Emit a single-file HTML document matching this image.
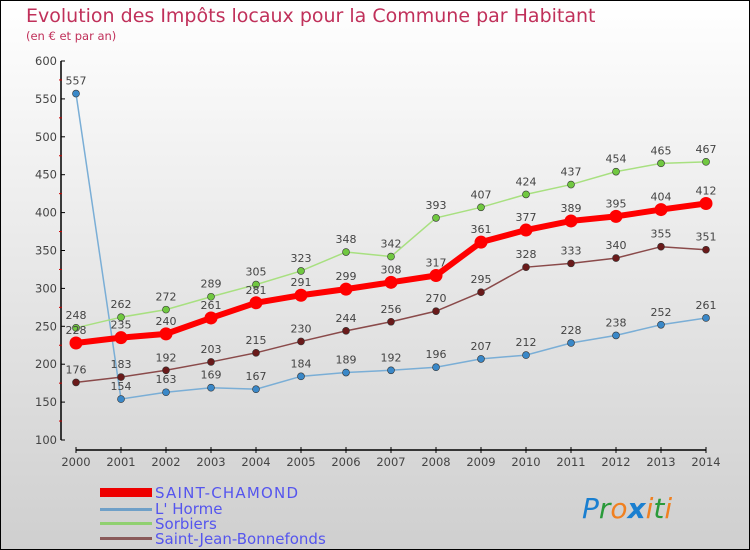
<!DOCTYPE html>
<html><head><meta charset="utf-8"><style>
body{margin:0}
#c{width:750px;height:550px;position:relative;overflow:hidden;box-sizing:border-box;border:1px solid #000;background:linear-gradient(#fff,#cfcfcf);font-family:"DejaVu Sans","Liberation Sans",sans-serif}
</style></head><body>
<div id="c">
<svg id="s" width="750" height="550" style="position:absolute;left:-1px;top:-1px">
<text x="26" y="22" font-size="19" fill="#c0305a">Evolution des Impôts locaux pour la Commune par Habitant</text>
<text x="26" y="40" font-size="11.5" fill="#c0305a">(en € et par an)</text>
<g id="axes"></g><g id="series"></g>
<g>
<rect x="100" y="488" width="52" height="9" fill="#e00"/>
<text x="155" y="498" font-size="15" fill="#5555ee" textLength="143">SAINT-CHAMOND</text>
<rect x="100" y="508" width="52" height="3" fill="#6fa0c8"/>
<text x="155" y="514" font-size="15" fill="#5555ee">L' Horme</text>
<rect x="100" y="522" width="52" height="3" fill="#90d070"/>
<text x="155" y="529" font-size="15" fill="#5555ee">Sorbiers</text>
<rect x="100" y="537" width="52" height="3" fill="#8a5a5a"/>
<text x="155" y="544" font-size="15" fill="#5555ee">Saint-Jean-Bonnefonds</text>
</g>
<text x="582" y="518" font-size="28" font-style="italic"><tspan fill="#1a7fd0">P</tspan><tspan fill="#2a9a3a">r</tspan><tspan fill="#f08020">o</tspan><tspan fill="#1a7fd0" font-weight="bold">x</tspan><tspan fill="#f08020">i</tspan><tspan fill="#2a9a3a">t</tspan><tspan fill="#f08020">i</tspan></text>
</svg>
</div>
<script>
const years=[2000,2001,2002,2003,2004,2005,2006,2007,2008,2009,2010,2011,2012,2013,2014];
const yTicks=[100,150,200,250,300,350,400,450,500,550,600];
const saintChamond=[228,235,240,261,281,291,299,308,317,361,377,389,395,404,412];
const lHorme=[557,154,163,169,167,184,189,192,196,207,212,228,238,252,261];
const sorbiers=[248,262,272,289,305,323,348,342,393,407,424,437,454,465,467];
const sjb=[176,183,192,203,215,230,244,256,270,295,328,333,340,355,351];
const NS='http://www.w3.org/2000/svg';
const X=i=>76+i*(706-76)/(years.length-1);
const Y=v=>440-(v-100)*(440-61)/500;
function mk(t,a,p){const e=document.createElementNS(NS,t);for(const k in a)e.setAttribute(k,a[k]);p.appendChild(e);return e;}
const ax=document.getElementById('axes'),sg=document.getElementById('series');
let e=mk('line',{x1:61,y1:61,x2:61,y2:440,stroke:'#000','stroke-width':1.5},ax);

e=mk('line',{x1:76,y1:450,x2:706,y2:450,stroke:'#000','stroke-width':1.5},ax);

yTicks.forEach((v,i)=>{mk('line',{x1:61,y1:Y(v),x2:65,y2:Y(v),stroke:'#000'},ax);
 if(i<yTicks.length-1)mk('line',{x1:59,y1:Y(v+25),x2:62,y2:Y(v+25),stroke:'#c00'},ax);
 const t=mk('text',{x:57,y:Y(v)+4,'font-size':11.5,fill:'#444','text-anchor':'end'},ax);t.textContent=v;
 });
years.forEach((y,i)=>{mk('line',{x1:X(i),y1:447,x2:X(i),y2:453,stroke:'#000'},ax);
 const t=mk('text',{x:X(i),y:466,'font-size':11.5,fill:'#444','text-anchor':'middle'},ax);t.textContent=y;
 });
function series(d,col,dot,w,r,name){
 const g=mk('g',{},sg);
 mk('polyline',{points:d.map((v,i)=>X(i)+','+Y(v)).join(' '),fill:'none',stroke:col,'stroke-width':w},g);
 d.forEach((v,i)=>{const c=mk('circle',{cx:X(i),cy:Y(v),r:r,fill:dot,stroke:'#333','stroke-width':r>5?0:0.6},g);
  
  const t=mk('text',{x:X(i),y:Y(v)-9,'font-size':11,fill:'#444','text-anchor':'middle'},g);t.textContent=v;
  });
}
series(lHorme,'#7aaed6','#3a88c8',1.5,3.5,'lhorme');
series(sorbiers,'#a8e080','#70c840',1.5,3.5,'sorbiers');
series(sjb,'#8a4a4a','#6a1a1a',1.5,3.5,'sjb');
series(saintChamond,'#f00','#f00',6,6.5,'saint-chamond');
</script>
</body></html>
